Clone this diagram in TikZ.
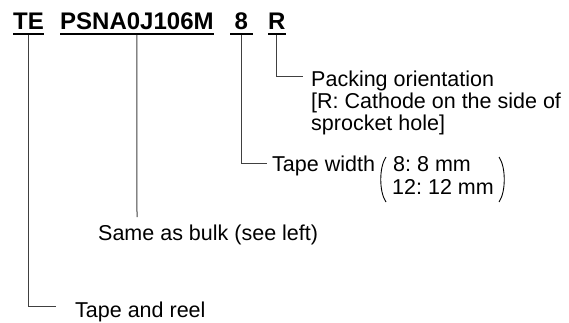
\documentclass[tikz,border=0pt]{standalone}
\usepackage{fontspec}
\setmainfont{Liberation Sans}
\frenchspacing
\begin{document}
\begin{tikzpicture}[x=1pt,y=-1pt,
  code/.style={font=\bfseries\fontsize{24}{28}\selectfont, inner sep=0pt, anchor=base west},
  txt/.style={font=\fontsize{21.5}{24}\selectfont, inner sep=0pt, anchor=base west},
  uline/.style={line width=1.4pt},
  ln/.style={line width=1pt, draw=black!75},
  paren/.style={line width=0.9pt}]
\useasboundingbox (0,0) rectangle (569,323);
% codes
\node[code] (te) at (13,30) {TE};
\node[code] (psna) at (60,30) {PSNA0J106M};
\node[code, inner xsep=4.5pt] (eight) at (230,30) {8};
\node[code] (rr) at (268,30) {R};
\foreach \n in {te,psna,eight,rr}
  \draw[uline] ([yshift=-4pt]\n.base west) -- ([yshift=-4pt]\n.base east);
% texts
\node[txt] (pack1) at (311,87) {Packing orientation};
\node[txt] (pack2) at (311,109) {{[}R: Cathode on the side of};
\node[txt] (pack3) at (311,131) {sprocket hole]};
\node[txt] (tw) at (272,171) {Tape width};
\node[txt] (tw8) at (393,171) {8: 8 mm};
\node[txt] (tw12) at (392,194) {12: 12 mm};
\node[txt] (same) at (98,240) {Same as bulk (see left)};
\node[txt] (reel) at (75,317) {Tape and reel};
% connector end points
\coordinate (rEnd) at (303,77);
\coordinate (eEnd) at (267,163);
\coordinate (pEnd) at (137,217);
\coordinate (tEnd) at (56,306);
\draw[ln] ([yshift=-5pt]rr.base) |- (rEnd);
\draw[ln] ([yshift=-5pt]eight.base) |- (eEnd);
\draw[ln] ([yshift=-5pt]psna.base) -- (pEnd);
\draw[ln] ([yshift=-5pt]te.base) |- (tEnd);
% parentheses
\coordinate (lpt) at (386,157);
\coordinate (lpb) at (386,202);
\coordinate (rpt) at (499,157);
\coordinate (rpb) at (499,202);
\draw[paren] (lpt) .. controls (379,167) and (379,192) .. (lpb);
\draw[paren] (rpt) .. controls (506,167) and (506,192) .. (rpb);
\end{tikzpicture}
\end{document}
